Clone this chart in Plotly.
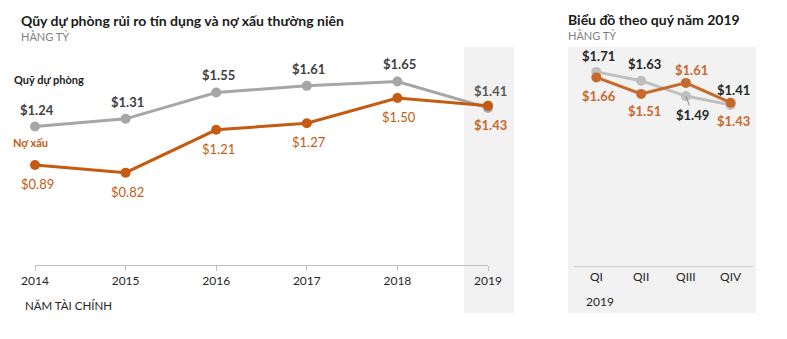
import plotly.graph_objects as go

# ---- data ----
years = [2014, 2015, 2016, 2017, 2018, 2019]
year_labels = ["2014", "2015", "2016", "2017", "2018", "2019"]
provision = [1.24, 1.31, 1.55, 1.61, 1.65, 1.41]
npl = [0.89, 0.82, 1.21, 1.27, 1.50, 1.43]

quarters = ["QI", "QII", "QIII", "QIV"]
q_provision = [1.71, 1.63, 1.49, 1.41]
q_npl = [1.66, 1.51, 1.61, 1.43]

# ---- styles ----
W, H = 787, 339
FONT = "Lato"
GREY = "#A6A6A6"
GREY2 = "#BFBFBF"
ORANGE = "#C55A11"
ORANGE2 = "#C8692C"
DARK = "#404040"

def px(x):
    return x / W

def py(y):
    return 1 - y / H

fig = go.Figure()

# left chart
fig.add_trace(go.Scatter(x=years, y=provision, mode="lines+markers",
                         line=dict(color=GREY, width=3), marker=dict(size=10, color=GREY),
                         cliponaxis=False, xaxis="x", yaxis="y", hoverinfo="skip"))
fig.add_trace(go.Scatter(x=years, y=npl, mode="lines+markers",
                         line=dict(color=ORANGE, width=3), marker=dict(size=10, color=ORANGE),
                         cliponaxis=False, xaxis="x", yaxis="y", hoverinfo="skip"))
# right chart
fig.add_trace(go.Scatter(x=quarters, y=q_provision, mode="lines+markers",
                         line=dict(color=GREY2, width=3), marker=dict(size=10, color=GREY2),
                         cliponaxis=False, xaxis="x2", yaxis="y2", hoverinfo="skip"))
fig.add_trace(go.Scatter(x=quarters, y=q_npl, mode="lines+markers",
                         line=dict(color=ORANGE2, width=3), marker=dict(size=10, color=ORANGE2),
                         cliponaxis=False, xaxis="x2", yaxis="y2", hoverinfo="skip"))

shapes = [
    # 2019 highlight band (left)
    dict(type="rect", xref="paper", yref="paper", x0=px(464), x1=px(514), y0=py(313), y1=py(47),
         fillcolor="#F2F2F2", line=dict(width=0), layer="below"),
    # right chart background
    dict(type="rect", xref="paper", yref="paper", x0=px(568), x1=px(756), y0=py(313), y1=py(47),
         fillcolor="#F2F2F2", line=dict(width=0), layer="below"),
]

ann = []
lab_font = 13
for i, (x, v) in enumerate(zip(years, provision)):
    ann.append(dict(x=x, y=v, xref="x", yref="y", text=f"<b>${v:.2f}</b>", showarrow=False,
                    xshift=2, yshift=17,
                    font=dict(family=FONT, size=lab_font, color=DARK if i < 5 else "#595959")))
for i, (x, v) in enumerate(zip(years, npl)):
    last = i == 5
    ann.append(dict(x=x, y=v, xref="x", yref="y",
                    text=(f"<b>${v:.2f}</b>" if last else f"${v:.2f}"), showarrow=False,
                    xshift=2, yshift=-19,
                    font=dict(family=FONT, size=lab_font, color=ORANGE2 if last else ORANGE)))

# (dx, dy, leader) label offsets in pixels for the quarterly chart
q_prov_shift = [(2, 16, False), (3, 17, False), (7, -19, True), (3, 15, False)]
q_npl_shift = [(3, -19, False), (3, -17, False), (6, 13, True), (3, -18, False)]

def q_label(q, v, dx, dy, leader, color):
    if leader:
        ann.append(dict(x=q, y=v, xref="x2", yref="y2", text=f"<b>${v:.2f}</b>",
                        showarrow=True, arrowhead=0, arrowwidth=1, arrowcolor="#8C8C8C",
                        ax=dx, ay=-dy, standoff=0,
                        font=dict(family=FONT, size=lab_font, color=color)))
    else:
        ann.append(dict(x=q, y=v, xref="x2", yref="y2", text=f"<b>${v:.2f}</b>", showarrow=False,
                        xshift=dx, yshift=dy, font=dict(family=FONT, size=lab_font, color=color)))

for q, v, (dx, dy, ld) in zip(quarters, q_provision, q_prov_shift):
    q_label(q, v, dx, dy, ld, "#262626")
for q, v, (dx, dy, ld) in zip(quarters, q_npl, q_npl_shift):
    q_label(q, v, dx, dy, ld, ORANGE2)

# titles and labels
def txt(x, y, text, size, color, bold=False, xanchor="left"):
    ann.append(dict(x=px(x), y=py(y), xref="paper", yref="paper",
                    text=(f"<b>{text}</b>" if bold else text),
                    showarrow=False, xanchor=xanchor, yanchor="middle",
                    font=dict(family=FONT, size=size, color=color)))

txt(19, 21, "Qũy dự phòng rủi ro tín dụng và nợ xấu thường niên", 14, "#1A1A1A", bold=True)
txt(19, 37, "HÀNG TỶ", 11, "#7F7F7F")
txt(566, 20, "Biểu đồ theo quý năm 2019", 14, "#1A1A1A", bold=True)
txt(566, 36, "HÀNG TỶ", 11, "#7F7F7F")
txt(12, 79, "Quỹ dự phòng", 11, "#1A1A1A", bold=True)
txt(11, 142, "Nợ xấu", 11, ORANGE, bold=True)
txt(23, 305, "NĂM TÀI CHÍNH", 11.5, "#262626")
txt(600, 301, "2019", 12, "#262626", xanchor="center")

fig.update_layout(
    width=W, height=H, margin=dict(l=0, r=0, t=0, b=0, autoexpand=False),
    paper_bgcolor="white", plot_bgcolor="rgba(0,0,0,0)",
    showlegend=False, shapes=shapes, annotations=ann,
    font=dict(family=FONT),
    xaxis=dict(domain=[px(35), px(488)], range=[2014, 2019], tickvals=years, ticktext=year_labels,
               showgrid=False, zeroline=False, showline=True, linecolor="#BFBFBF", linewidth=1,
               ticks="outside", ticklen=5, tickcolor="#BFBFBF", automargin=False,
               tickfont=dict(family=FONT, size=12, color="#262626"), fixedrange=True),
    yaxis=dict(domain=[py(265), py(43)], range=[-0.02, 2.0], visible=False, fixedrange=True),
    xaxis2=dict(domain=[px(574), px(753)], range=[-0.5, 3.5], type="category",
                showgrid=False, zeroline=False, showline=True, linecolor="#D0D0D0", linewidth=1,
                ticks="", tickfont=dict(family=FONT, size=12, color="#262626"), fixedrange=True,
                anchor="y2", automargin=False),
    yaxis2=dict(domain=[py(266), py(40)], range=[-0.055, 2.0], visible=False, fixedrange=True,
                anchor="x2"),
)

fig.write_html("out.html")
